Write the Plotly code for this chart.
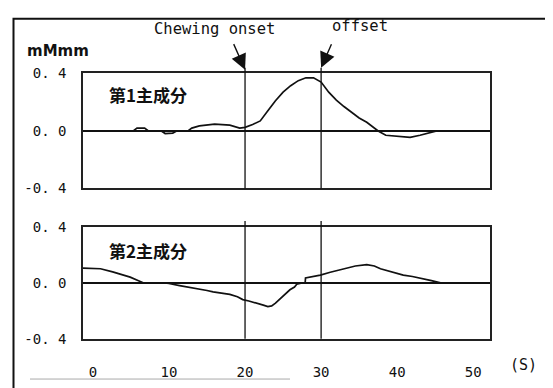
import plotly.graph_objects as go

# ---- data ----
pc1_t = [-1.3, 0, 5.3, 5.8, 6.8, 7.3, 9.0, 9.5, 10.5, 11.0, 12.5, 13, 14, 16, 18, 19.3, 20,
         21, 22, 23, 24, 25, 26, 27, 28, 29, 30, 31, 32, 33, 34, 35, 36, 37, 37.5, 38.5,
         40, 41.7, 43, 44.3, 45.2, 50]
pc1_v = [0, 0, 0, 0.02, 0.02, 0, 0, -0.018, -0.015, 0, 0, 0.02, 0.035, 0.047, 0.04, 0.02, 0.025,
         0.045, 0.07, 0.14, 0.21, 0.27, 0.315, 0.35, 0.37, 0.37, 0.34, 0.27, 0.215, 0.17, 0.13,
         0.09, 0.06, 0.02, 0, -0.03, -0.035, -0.045, -0.03, -0.015, 0, 0]

pc2_t = [-1.3, 0, 1, 2.6, 4, 4.9, 6, 6.6, 9.2, 10, 11.4, 12.5, 13.7, 15, 15.8, 17, 18, 19, 19.7,
         20.5, 21.6, 22.4, 23, 23.5, 24, 24.6, 25.3, 25.9, 26.5, 26.8, 27.6, 27.9, 27.95, 29,
         29.9, 31.2, 32.3, 33.4, 34.5, 36, 37, 37.8, 39, 40.8, 42, 43, 44.5, 45.7, 50]
pc2_v = [0.105, 0.105, 0.1, 0.078, 0.055, 0.04, 0.015, 0, 0, -0.005, -0.02, -0.03, -0.04, -0.055,
         -0.065, -0.075, -0.083, -0.1, -0.12, -0.13, -0.145, -0.16, -0.17, -0.165, -0.145, -0.115,
         -0.08, -0.05, -0.03, -0.01, 0, 0, 0.035, 0.045, 0.055, 0.075, 0.09, 0.105, 0.12, 0.13,
         0.12, 0.1, 0.08, 0.055, 0.045, 0.035, 0.015, 0, 0]

event_times = [20, 30]
event_labels = ["Chewing onset", "offset"]
panel_labels = ["第1主成分", "第2主成分"]
y_tickvals = [-0.4, 0.0, 0.4]
y_ticktext = ["-0. 4", "0. 0", "0. 4"]
x_tickvals = [0, 10, 20, 30, 40, 50]
x_ticktext = ["0", "10", "20", "30", "40", "50"]
unit_label = "mMmm"
time_unit = "(S)"

# page body has an 8px margin: the figure is drawn at (8, 8)
OFF = 8
W, H = 553 - OFF, 388 - OFF
def px(x):
    return (x - OFF) / W
def py(y):
    return 1 - (y - OFF) / H

fig = go.Figure()
line_style = dict(color="#111111", width=1.7)
fig.add_trace(go.Scatter(x=pc1_t, y=pc1_v, mode="lines", line=line_style, xaxis="x", yaxis="y",
                         showlegend=False, hoverinfo="skip"))
fig.add_trace(go.Scatter(x=pc2_t, y=pc2_v, mode="lines", line=line_style, xaxis="x2", yaxis="y2",
                         showlegend=False, hoverinfo="skip"))

xr = [-1.3, 52.2]
tickfont = dict(family="DejaVu Sans Mono", size=14, color="#111111")
common_x = dict(range=xr, showgrid=False, zeroline=False, showline=True, mirror=True,
                linecolor="#222222", linewidth=1.5, ticks="", fixedrange=True)
common_y = dict(range=[-0.4, 0.4], showgrid=False, zeroline=True, zerolinecolor="#111111",
                zerolinewidth=2.2, showline=True, mirror=True, linecolor="#222222", linewidth=1.5,
                ticks="", tickvals=y_tickvals, ticktext=y_ticktext, tickfont=tickfont,
                ticklabelstandoff=12, fixedrange=True)

fig.update_layout(
    width=W, height=H, margin=dict(l=0, r=0, t=0, b=0),
    paper_bgcolor="white", plot_bgcolor="white",
    xaxis=dict(domain=[px(83), px(490)], anchor="y", showticklabels=False, **common_x),
    yaxis=dict(domain=[py(188), py(68)], anchor="x", **common_y),
    xaxis2=dict(domain=[px(83), px(490)], anchor="y2", showticklabels=True,
                tickvals=x_tickvals, ticktext=x_ticktext, tickfont=tickfont,
                ticklabelstandoff=20, **common_x),
    yaxis2=dict(domain=[py(345), py(228)], anchor="x2", **common_y),
)

# event vertical lines (x from data, vertical extent in page units)
for t in event_times:
    fig.add_shape(type="line", xref="x", yref="paper", x0=t, x1=t, y0=py(188), y1=py(62),
                  line=dict(color="#111111", width=1.3), layer="above")
    fig.add_shape(type="line", xref="x2", yref="paper", x0=t, x1=t, y0=py(345), y1=py(222),
                  line=dict(color="#111111", width=1.3), layer="above")

# arrows
fig.add_annotation(x=event_times[0], y=py(64), xref="x", yref="paper", ax=-12, ay=-27, text="",
                   showarrow=True, arrowhead=2, arrowsize=2.2, arrowwidth=1.4,
                   arrowcolor="#111111", standoff=0)
fig.add_annotation(x=event_times[1], y=py(62), xref="x", yref="paper", ax=11, ay=-25, text="",
                   showarrow=True, arrowhead=2, arrowsize=2.2, arrowwidth=1.4,
                   arrowcolor="#111111", standoff=0)

# event labels
monofont = dict(family="DejaVu Sans Mono", size=15.5, color="#111111")
fig.add_annotation(x=px(214), y=py(22), xref="paper", yref="paper", text=event_labels[0],
                   showarrow=False, font=monofont, xanchor="center", yanchor="middle")
fig.add_annotation(x=px(360), y=py(18), xref="paper", yref="paper", text=event_labels[1],
                   showarrow=False, font=monofont, xanchor="center", yanchor="middle")

# panel labels
cjk = dict(family="Noto Sans CJK JP", size=17, color="#111111", weight="bold")
fig.add_annotation(x=px(107), y=py(90), xref="paper", yref="paper", text=panel_labels[0],
                   showarrow=False, font=cjk, xanchor="left", yanchor="middle")
fig.add_annotation(x=px(107), y=py(253), xref="paper", yref="paper", text=panel_labels[1],
                   showarrow=False, font=cjk, xanchor="left", yanchor="middle")

# unit labels
fig.add_annotation(x=px(25), y=py(45), xref="paper", yref="paper", text="<b>" + unit_label + "</b>",
                   showarrow=False, font=dict(family="DejaVu Sans", size=15, color="#111111"),
                   xanchor="left", yanchor="middle")
fig.add_annotation(x=px(523), y=py(372), xref="paper", yref="paper", text=time_unit,
                   showarrow=False, font=dict(family="DejaVu Sans Mono", size=15, color="#111111"),
                   xanchor="center", yanchor="middle")

# outer frame: rectangle running off the right and bottom edges
fig.add_shape(type="rect", xref="paper", yref="paper", x0=px(13.5), x1=1.05, y0=-0.05, y1=py(11),
              line=dict(color="#111111", width=2), fillcolor="rgba(0,0,0,0)", layer="above")
fig.add_shape(type="line", xref="paper", yref="paper", x0=px(30), x1=px(290), y0=py(387), y1=py(387),
              line=dict(color="#aaaaaa", width=1))

fig.write_html("out.html")
